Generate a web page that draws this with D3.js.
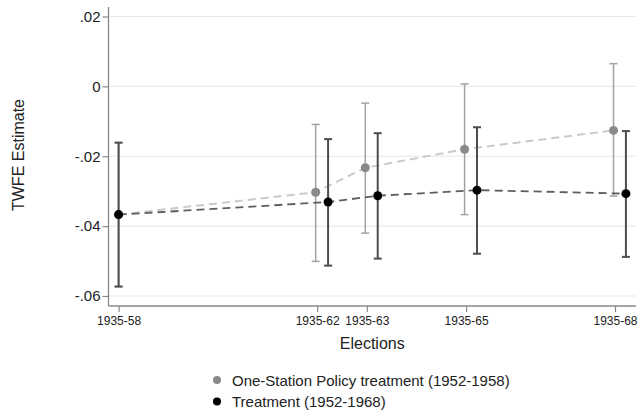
<!DOCTYPE html>
<html>
<head>
<meta charset="utf-8">
<script src="https://cdn.jsdelivr.net/npm/d3@7"></script>
<style>
  html, body { margin: 0; padding: 0; background: #fff; }
  svg { display: block; font-family: "Liberation Sans", Arial, sans-serif; }
</style>
</head>
<body>
<svg id="chart" width="638" height="410"></svg>
<script>
// Election windows (start-end) and their closing year
const elections = ["1935-58", "1935-62", "1935-63", "1935-65", "1935-68"];
const endYears = [58, 62, 63, 65, 68];

// One-Station Policy treatment (1952-1958): estimate and 95% CI
const oneStationEst = [-0.0367, -0.0303, -0.0233, -0.0180, -0.0126];
const oneStationLo  = [-0.0573, -0.0501, -0.0420, -0.0367, -0.0314];
const oneStationHi  = [-0.0161, -0.0109, -0.0048,  0.0007,  0.0065];

// Treatment (1952-1968): estimate and 95% CI
const treatEst = [-0.0367, -0.0331, -0.0313, -0.0297, -0.0307];
const treatLo  = [-0.0573, -0.0513, -0.0493, -0.0479, -0.0488];
const treatHi  = [-0.0161, -0.0151, -0.0134, -0.0117, -0.0128];

// Y axis ticks
const yTicks = [-0.06, -0.04, -0.02, 0, 0.02];
const yTickLabels = ["-.06", "-.04", "-.02", "0", ".02"];

const legendLabels = ["One-Station Policy treatment (1952-1958)", "Treatment (1952-1968)"];

const svg = d3.select("#chart");

const plotLeft = 108.5, plotRight = 636, plotTop = 7, plotBottom = 306;

const x = d3.scaleLinear().domain([58, 68]).range([118.6, 615]);
const y = d3.scaleLinear().domain([-0.06, 0.02]).range([296, 16.5]);

// Horizontal dodge so the two series' intervals do not overlap (reference point shared)
const dodge = [-0.03, 0.22];

// Gridlines
svg.append("g")
  .selectAll("line")
  .data(yTicks)
  .join("line")
  .attr("x1", plotLeft).attr("x2", plotRight)
  .attr("y1", d => y(d)).attr("y2", d => y(d))
  .attr("stroke", "#e9e9e9").attr("stroke-width", 1.2);

// Y axis
const yAxis = d3.axisLeft(y)
  .tickValues(yTicks)
  .tickFormat((d, i) => yTickLabels[i])
  .tickSize(6)
  .tickSizeOuter(0)
  .tickPadding(2);
const gy = svg.append("g").attr("transform", `translate(${plotLeft},0)`).call(yAxis);
gy.select(".domain").remove();
gy.selectAll(".tick line").attr("stroke", "#888").attr("stroke-width", 1.2);
gy.selectAll(".tick text").attr("fill", "#222").style("font-size", "15px")
  .style("font-family", "'Liberation Sans', Arial, sans-serif");
svg.append("line")
  .attr("x1", plotLeft).attr("x2", plotLeft)
  .attr("y1", plotTop).attr("y2", plotBottom)
  .attr("stroke", "#888").attr("stroke-width", 1.3);

// X axis
const xAxis = d3.axisBottom(x)
  .tickValues(endYears)
  .tickFormat((d, i) => elections[i])
  .tickSize(6)
  .tickSizeOuter(0)
  .tickPadding(4);
const gx = svg.append("g").attr("transform", `translate(0,${plotBottom})`).call(xAxis);
gx.select(".domain").remove();
gx.selectAll(".tick line").attr("stroke", "#888").attr("stroke-width", 1.2);
gx.selectAll(".tick text").attr("fill", "#222").style("font-size", "12px")
  .style("font-family", "'Liberation Sans', Arial, sans-serif");
svg.append("line")
  .attr("x1", plotLeft).attr("x2", plotRight)
  .attr("y1", plotBottom).attr("y2", plotBottom)
  .attr("stroke", "#888").attr("stroke-width", 1.3);

// Axis titles
svg.append("text")
  .attr("x", (plotLeft + plotRight) / 2).attr("y", 349)
  .attr("text-anchor", "middle").attr("fill", "#222")
  .style("font-size", "16px").text("Elections");
svg.append("text")
  .attr("transform", "translate(24,155) rotate(-90)")
  .attr("text-anchor", "middle").attr("fill", "#222")
  .style("font-size", "16px").text("TWFE Estimate");

// Series definitions
const series = [
  { est: oneStationEst, lo: oneStationLo, hi: oneStationHi,
    bar: "#a3a3a3", barW: 1.5, line: "#cacaca", lineW: 2, dot: "#8a8a8a" },
  { est: treatEst, lo: treatLo, hi: treatHi,
    bar: "#4d4d4d", barW: 2, line: "#5e5e5e", lineW: 1.8, dot: "#000" }
];

series.forEach((s, k) => {
  const pts = endYears.map((yr, i) => ({
    xv: i === 0 ? yr : yr + dodge[k],
    est: s.est[i], lo: s.lo[i], hi: s.hi[i]
  }));
  const g = svg.append("g");

  // Connecting dashed line
  g.append("path")
    .datum(pts)
    .attr("fill", "none")
    .attr("stroke", s.line)
    .attr("stroke-width", s.lineW)
    .attr("stroke-dasharray", "8,5")
    .attr("d", d3.line().x(d => x(d.xv)).y(d => y(d.est)));

  // Confidence intervals with caps
  const ci = g.selectAll("g.ci").data(pts).join("g").attr("class", "ci");
  ci.append("line")
    .attr("x1", d => x(d.xv)).attr("x2", d => x(d.xv))
    .attr("y1", d => y(d.lo)).attr("y2", d => y(d.hi))
    .attr("stroke", s.bar).attr("stroke-width", s.barW);
  ["lo", "hi"].forEach(key => {
    ci.append("line")
      .attr("x1", d => x(d.xv) - 4).attr("x2", d => x(d.xv) + 4)
      .attr("y1", d => y(d[key])).attr("y2", d => y(d[key]))
      .attr("stroke", s.bar).attr("stroke-width", s.barW);
  });

  // Point estimates
  g.selectAll("circle").data(pts).join("circle")
    .attr("cx", d => x(d.xv)).attr("cy", d => y(d.est))
    .attr("r", 4.5).attr("fill", s.dot);
});

// Legend
const legend = svg.append("g");
legendLabels.forEach((lab, i) => {
  const ly = 380 + i * 21.5;
  legend.append("circle").attr("cx", 217).attr("cy", ly).attr("r", 4)
    .attr("fill", series[i].dot);
  legend.append("text").attr("x", 232).attr("y", ly)
    .attr("dominant-baseline", "central").attr("fill", "#222")
    .style("font-size", "15px").text(lab);
});
</script>
</body>
</html>
